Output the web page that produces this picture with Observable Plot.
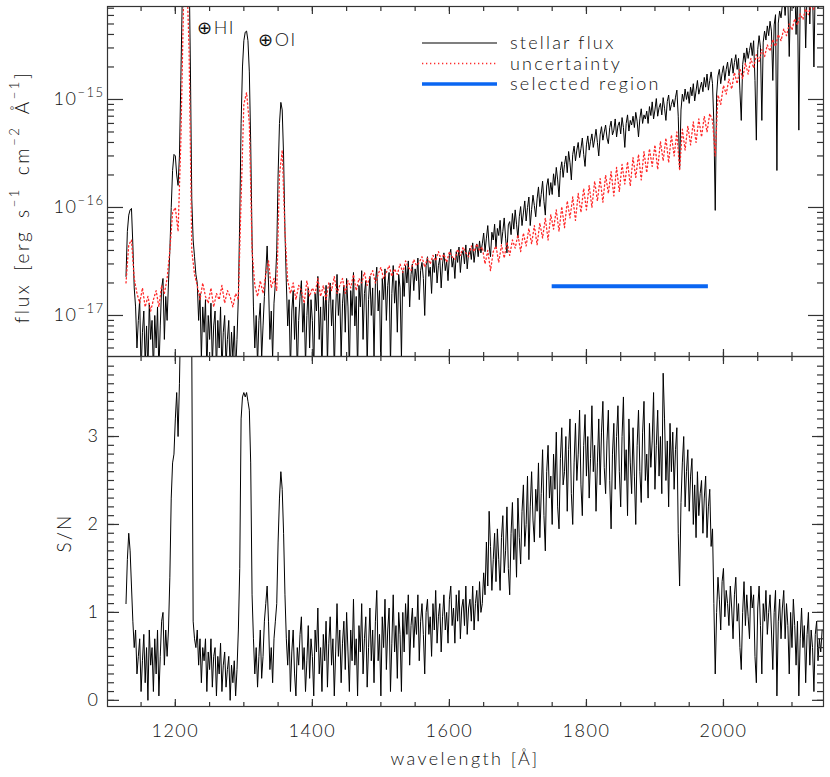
<!DOCTYPE html>
<html><head><meta charset="utf-8">
<script src="https://cdn.jsdelivr.net/npm/d3@7"></script>
<script src="https://cdn.jsdelivr.net/npm/@observablehq/plot@0.6"></script>
<style>
html,body{margin:0;padding:0;background:#fff;}
#chart{position:relative;width:830px;height:777px;}
#chart svg{position:absolute;left:0;overflow:visible;background:transparent;}
</style></head><body><div id="chart"></div>
<script>
// wavelength grid of the flux and S/N spectra [Å]
const wavelength = [
1128,1130,1132,1134,1136,1138,1140,1142,1144,1146,
1148,1150,1152,1154,1156,1158,1160,1162,1164,1166,
1168,1170,1172,1174,1176,1178,1180,1182,1184,1186,
1188,1190,1192,1194,1196,1198,1200,1202,1204,1206,
1208,1210,1212,1214,1216,1218,1220,1222,1224,1226,
1228,1230,1232,1234,1236,1238,1240,1242,1244,1246,
1248,1250,1252,1254,1256,1258,1260,1262,1264,1266,
1268,1270,1272,1274,1276,1278,1280,1282,1284,1286,
1288,1290,1292,1294,1296,1298,1300,1302,1304,1306,
1308,1310,1312,1314,1316,1318,1320,1322,1324,1326,
1328,1330,1332,1334,1336,1338,1340,1342,1344,1346,
1348,1350,1352,1354,1356,1358,1360,1362,1364,1366,
1368,1370,1372,1374,1376,1378,1380,1382,1384,1386,
1388,1390,1392,1394,1396,1398,1400,1402,1404,1406,
1408,1410,1412,1414,1416,1418,1420,1422,1424,1426,
1428,1430,1432,1434,1436,1438,1440,1442,1444,1446,
1448,1450,1452,1454,1456,1458,1460,1462,1464,1466,
1468,1470,1472,1474,1476,1478,1480,1482,1484,1486,
1488,1490,1492,1494,1496,1498,1500,1502,1504,1506,
1508,1510,1512,1514,1516,1518,1520,1522,1524,1526,
1528,1530,1532,1534,1536,1538,1540,1542,1544,1546,
1548,1550,1552,1554,1556,1558,1560,1562,1564,1566,
1568,1570,1572,1574,1576,1578,1580,1582,1584,1586,
1588,1590,1592,1594,1596,1598,1600,1602,1604,1606,
1608,1610,1612,1614,1616,1618,1620,1622,1624,1626,
1628,1630,1632,1634,1636,1638,1640,1642,1644,1646,
1648,1650,1652,1654,1656,1658,1660,1662,1664,1666,
1668,1670,1672,1674,1676,1678,1680,1682,1684,1686,
1688,1690,1692,1694,1696,1698,1700,1702,1704,1706,
1708,1710,1712,1714,1716,1718,1720,1722,1724,1726,
1728,1730,1732,1734,1736,1738,1740,1742,1744,1746,
1748,1750,1752,1754,1756,1758,1760,1762,1764,1766,
1768,1770,1772,1774,1776,1778,1780,1782,1784,1786,
1788,1790,1792,1794,1796,1798,1800,1802,1804,1806,
1808,1810,1812,1814,1816,1818,1820,1822,1824,1826,
1828,1830,1832,1834,1836,1838,1840,1842,1844,1846,
1848,1850,1852,1854,1856,1858,1860,1862,1864,1866,
1868,1870,1872,1874,1876,1878,1880,1882,1884,1886,
1888,1890,1892,1894,1896,1898,1900,1902,1904,1906,
1908,1910,1912,1914,1916,1918,1920,1922,1924,1926,
1928,1930,1932,1934,1936,1938,1940,1942,1944,1946,
1948,1950,1952,1954,1956,1958,1960,1962,1964,1966,
1968,1970,1972,1974,1976,1978,1980,1982,1984,1986,
1988,1990,1992,1994,1996,1998,2000,2002,2004,2006,
2008,2010,2012,2014,2016,2018,2020,2022,2024,2026,
2028,2030,2032,2034,2036,2038,2040,2042,2044,2046,
2048,2050,2052,2054,2056,2058,2060,2062,2064,2066,
2068,2070,2072,2074,2076,2078,2080,2082,2084,2086,
2088,2090,2092,2094,2096,2098,2100,2102,2104,2106,
2108,2110,2112,2114,2116,2118,2120,2122,2124,2126,
2128,2130,2132,2134,2136,2138,2140,2142,2144];

// stellar flux, units of 1e-17 erg s^-1 cm^-2 Å^-1
const fluxE17 = [
2.3,6.0,8.5,9.5,9.8,4.5,1.8,1.2,0.5,0.9,
1.4,0.3,0.7,1.1,0.35,0.8,0.3,1.3,0.6,0.9,
0.3,1.0,0.5,1.2,0.3,0.8,1.8,2.2,0.6,1.5,
0.9,2.0,4.0,10,22,31,30,20,16,30,
150,800,3000,5000,6000,5000,2000,200,12,5,
3.5,2.4,2.0,0.9,1.6,0.4,1.2,0.7,1.4,0.3,
1.0,0.6,1.3,0.35,0.8,1.1,0.3,0.9,0.5,1.2,
0.3,0.7,1.0,0.35,0.6,0.9,0.3,0.7,0.4,0.8,
0.3,0.6,1.5,8,60,200,350,420,430,350,
180,40,5,1.2,0.5,1.0,0.35,0.9,1.3,0.4,
0.8,1.5,2.5,4.4,2.0,0.6,1.1,0.4,1.3,2.0,
4,20,60,94,80,30,6,2.0,0.8,1.4,
0.3,1.1,1.7,0.6,1.2,0.3,0.9,1.5,2.1,0.7,
1.3,0.35,1.0,1.8,0.5,1.4,0.9,0.3,1.6,1.1,
2.3,0.6,1.2,0.3,1.5,0.9,1.9,0.35,1.3,2.0,
0.8,1.4,0.3,1.1,2.4,1.0,1.6,0.4,1.3,1.9,
0.7,2.2,1.2,0.3,1.7,1.0,2.5,0.8,1.5,0.3,
1.9,1.2,2.6,0.6,1.6,2.1,0.35,1.4,2.3,1.0,
1.8,0.4,2.0,2.8,1.1,1.7,0.3,2.2,1.4,2.7,
0.9,1.9,2.5,0.35,1.6,2.9,1.3,2.1,0.7,2.4,
1.8,0.4,2.6,1.5,2.9,2.0,3.2,1.2,2.4,3.0,
1.7,2.7,2.1,3.4,1.4,2.6,3.1,2.2,1.0,2.9,
3.5,2.3,2.8,1.6,3.3,2.5,3.7,2.0,2.9,3.4,
1.8,3.0,3.8,2.6,3.2,2.1,3.6,4.1,2.8,3.4,
2.2,3.9,3.1,4.3,2.5,3.6,4.0,3.0,4.5,2.7,
3.8,4.2,3.3,4.7,3.1,4.0,4.6,3.5,4.9,3.8,
4.6,5.8,3.9,5.2,6.8,4.4,3.5,5.9,5.0,7.0,
4.2,6.4,5.5,7.6,4.6,6.0,8.0,5.2,3.8,6.9,
7.4,5.6,8.8,6.3,9.5,7.0,5.2,8.2,10.2,6.8,
8.9,11.5,7.5,10.0,12.5,6.8,9.6,13.0,10.4,8.2,
12.0,15.5,10.2,13.2,17.5,11.4,8.5,15.8,18.5,13.0,
17.0,13.2,20.5,16.0,23.5,18.0,12.5,22.0,26.5,19.0,
25,30,21,33,26,18,31,37,27,34,
40,29,35,44,31,24,38,46,34,41,
48,36,43,53,40,30,47,56,42,50,
58,44,39,55,63,47,52,66,45,57,
62,48,68,55,36,60,72,51,64,58,
70,55,76,63,45,67,82,60,72,66,
78,60,86,71,95,66,80,102,70,84,
92,72,104,83,64,96,110,79,90,100,
85,105,122,70,23,80,112,96,125,100,
118,92,130,108,140,97,120,150,112,128,
145,118,160,130,172,122,150,180,140,60,
9.4,110,165,190,140,175,205,150,190,222,
165,200,240,175,220,260,190,240,120,64,
210,270,220,300,240,285,335,255,350,150,
42,290,390,305,64,340,430,355,480,390,
530,430,150,490,610,22,510,660,570,760,
900,600,1000,820,250,900,1100,700,1200,400,
1000,52,800,1300,900,1200,300,1000,1400,500,
1300,1100,200,1200,1500,700,1300,1100,1500];

// signal-to-noise ratio on the same grid
const snr = [
1.1,1.6,1.9,1.7,1.3,0.9,0.6,0.8,0.3,0.5,
0.7,0.1,0.45,0.75,0.2,0.6,0.0,0.8,0.4,0.6,
0.1,0.7,0.3,0.8,0.05,0.5,0.9,1.0,0.4,0.8,
0.5,0.8,1.4,2.3,2.7,2.8,3.2,3.5,3.0,3.6,
4.5,6,8,9,10,9,7,6,4,0.9,
0.7,0.6,0.8,0.4,0.7,0.2,0.6,0.45,0.7,0.1,
0.55,0.35,0.7,0.15,0.5,0.6,0.05,0.5,0.3,0.65,
0.1,0.4,0.55,0.15,0.35,0.5,0.0,0.4,0.2,0.45,
0.05,0.35,0.8,1.5,3.2,3.45,3.5,3.45,3.5,3.4,
3.3,2.7,1.2,0.7,0.3,0.6,0.15,0.5,0.8,0.25,
0.5,0.9,1.1,1.3,0.9,0.35,0.6,0.2,0.7,0.9,
1.1,1.8,2.3,2.6,2.4,1.9,1.2,0.7,0.4,0.8,
0.1,0.55,0.8,0.3,0.05,0.6,0.4,0.75,0.95,0.35,
0.6,0.1,0.45,0.85,0.25,0.7,0.5,0.05,0.8,0.55,
1.05,0.3,0.6,0.1,0.75,0.45,0.9,0.15,0.65,0.95,
0.4,0.7,0.05,0.55,1.1,0.5,0.8,0.2,0.65,0.9,
0.35,1.0,0.55,0.1,0.8,0.45,1.15,0.4,0.7,0.05,
0.85,0.55,1.1,0.3,0.7,0.95,0.15,0.6,1.05,0.45,
0.8,0.2,0.9,1.25,0.45,0.75,0.05,0.95,0.6,1.15,
0.35,0.8,1.05,0.1,0.65,1.2,0.55,0.85,0.25,1.0,
0.75,0.1,1.0,0.55,1.1,0.75,1.2,0.4,0.85,1.05,
0.6,0.95,0.75,1.2,0.45,0.9,1.1,0.75,0.3,1.0,
1.15,0.75,0.95,0.5,1.1,0.8,1.25,0.65,0.95,1.1,
0.55,0.95,1.2,0.8,1.0,0.65,1.15,1.3,0.85,1.05,
0.65,1.2,0.9,1.25,0.7,1.05,1.15,0.85,1.3,0.75,
1.05,1.15,0.9,1.3,0.8,1.1,1.25,0.9,1.35,1.0,
1.1,1.45,1.2,1.8,1.3,2.15,1.75,1.25,1.6,1.9,
1.35,1.95,1.6,1.25,1.85,2.1,1.45,1.7,2.2,1.5,
1.2,1.9,2.25,1.6,1.95,1.4,2.3,1.85,1.55,2.15,
2.45,1.75,2.0,2.55,1.6,2.2,2.6,2.05,1.8,2.4,
2.15,2.7,1.85,2.35,2.85,2.1,1.7,2.6,2.9,2.3,
2.55,2.0,2.8,2.4,3.05,2.2,1.95,2.75,3.1,2.45,
2.6,3.0,2.15,2.85,3.2,2.35,2.0,2.7,3.15,2.5,
2.8,3.3,2.45,2.1,2.9,3.25,2.55,3.0,2.3,2.75,
3.35,2.6,2.9,2.15,2.7,3.2,2.45,3.05,3.4,2.65,
2.35,2.95,3.3,2.5,1.95,2.8,3.15,2.4,3.0,3.35,
2.6,2.2,3.0,3.45,2.5,2.85,2.1,3.2,2.7,2.35,
3.1,2.55,2.0,2.9,3.3,2.6,2.25,3.05,3.4,2.5,
2.8,2.3,3.15,2.65,2.95,3.5,2.4,2.9,3.3,2.55,
3.0,2.35,3.72,3.2,2.5,2.95,2.2,3.15,2.6,3.05,
2.4,2.85,3.1,1.9,1.3,2.25,2.7,3.0,2.2,2.6,
2.85,2.15,2.55,2.75,2.0,2.45,1.85,2.6,2.1,2.35,
2.5,1.9,2.3,2.55,1.85,2.2,2.4,1.75,1.95,1.1,
0.3,1.0,1.4,1.15,0.8,1.35,1.5,0.95,1.25,1.1,
0.85,1.3,1.05,0.7,1.2,1.4,0.9,1.1,0.6,0.35,
1.0,1.35,0.85,1.2,0.95,0.7,1.3,1.05,1.2,0.5,
0.2,1.05,1.3,0.85,0.3,1.1,0.9,1.25,0.75,1.0,
1.2,0.8,0.35,1.0,1.25,0.05,0.9,1.15,0.7,1.05,
1.25,0.7,1.1,0.85,0.3,1.0,0.6,1.15,0.85,0.4,
0.9,0.05,0.7,1.05,0.6,0.85,0.2,0.75,1.0,0.4,
0.8,0.6,0.1,0.75,0.9,0.45,0.7,0.55,0.8];

// wavelength grid of the uncertainty spectrum [Å]
const errWavelength = [
1128,1132,1136,1140,1144,1148,1152,1156,1160,1164,
1168,1172,1176,1180,1184,1188,1192,1196,1200,1204,
1208,1212,1216,1220,1224,1228,1232,1236,1240,1244,
1248,1252,1256,1260,1264,1268,1272,1276,1280,1284,
1288,1292,1296,1300,1304,1308,1312,1316,1320,1324,
1328,1332,1336,1340,1344,1348,1352,1356,1360,1364,
1368,1372,1376,1380,1384,1388,1392,1396,1400,1404,
1408,1412,1416,1420,1424,1428,1432,1436,1440,1444,
1448,1452,1456,1460,1464,1468,1472,1476,1480,1484,
1488,1492,1496,1500,1504,1508,1512,1516,1520,1524,
1528,1532,1536,1540,1544,1548,1552,1556,1560,1564,
1568,1572,1576,1580,1584,1588,1592,1596,1600,1604,
1608,1612,1616,1620,1624,1628,1632,1636,1640,1644,
1648,1652,1656,1660,1664,1668,1672,1676,1680,1684,
1688,1692,1696,1700,1704,1708,1712,1716,1720,1724,
1728,1732,1736,1740,1744,1748,1752,1756,1760,1764,
1768,1772,1776,1780,1784,1788,1792,1796,1800,1804,
1808,1812,1816,1820,1824,1828,1832,1836,1840,1844,
1848,1852,1856,1860,1864,1868,1872,1876,1880,1884,
1888,1892,1896,1900,1904,1908,1912,1916,1920,1924,
1928,1932,1936,1940,1944,1948,1952,1956,1960,1964,
1968,1972,1976,1980,1984,1988,1992,1996,2000,2004,
2008,2012,2016,2020,2024,2028,2032,2036,2040,2044,
2048,2052,2056,2060,2064,2068,2072,2076,2080,2084,
2088,2092,2096,2100,2104,2108,2112,2116,2120,2124,
2128,2132,2136,2140,2144];

// uncertainty, units of 1e-17 erg s^-1 cm^-2 Å^-1
const errE17 = [
2.0,4.5,5.0,2.2,1.6,1.3,1.8,1.2,1.5,1.1,
1.4,1.7,1.2,1.9,1.6,2.2,4,9,10,6,
40,800,2000,300,4,2.4,1.9,1.4,2.0,1.5,
1.3,1.8,1.2,1.6,1.4,1.9,1.3,1.7,1.5,1.2,
1.6,1.4,12,90,116,60,4,1.9,1.5,2.1,
1.6,2.4,3.2,1.8,2.2,1.7,20,34,6,2.1,
1.6,2.0,1.4,1.9,1.7,1.3,2.1,1.5,1.8,1.6,
2.2,1.5,1.9,1.4,2.0,1.7,2.3,1.6,1.9,2.2,
1.6,2.1,1.8,2.4,1.7,2.2,2.0,2.5,1.9,2.3,
2.6,2.0,2.4,2.8,2.2,2.5,2.9,2.3,2.7,2.4,
3.0,2.5,3.2,2.8,2.6,3.3,2.9,3.1,3.5,2.8,
3.4,3.0,3.6,3.2,3.9,3.3,3.7,3.1,3.9,3.5,
3.3,4.1,3.6,4.3,3.8,3.5,4.4,3.9,4.6,4.0,
4.3,3.0,4.0,2.6,3.9,4.4,3.1,4.5,3.4,4.8,
3.6,5.0,4.2,5.6,3.9,5.8,4.4,6.4,4.6,6.8,
4.5,7.2,5.2,8.0,5.0,8.6,6.3,9.5,6.0,10.2,
6.5,11.5,8.0,12.5,7.6,13.5,9.0,15,9.5,16,
10,17.5,11.5,18.5,11.2,20,13.5,21.5,12.8,23.5,
14,25,16.5,26.5,15.8,29,19,31,18,33,
21,35,24,38,22.5,41,27,44,26,47,
30,50,22,53,34,57,38,62,40,66,
45,70,50,74,64,30,110,90,135,112,
155,125,178,140,195,155,218,172,240,195,
260,225,290,250,320,280,360,310,400,350,
450,390,500,440,560,490,620,550,690,610,
760,680,840,750,900];

const xTicks = [1200, 1400, 1600, 1800, 2000];
const fluxTicks = [1e-17, 1e-16, 1e-15];
const snTicks = [0, 1, 2, 3];
const selectedRegion = [1750, 1978];
const selectedLevel = [1.86e-17];
const legendLabels = ["stellar flux", "uncertainty", "selected region"];
const annotationLabels = ["⊕HI", "⊕OI"];
const annotationX = [1232, 1321];
const annotationY = [4.6e-15, 3.5e-15];

const rows = wavelength.map((w, i) => ({w, flux: fluxE17[i] * 1e-17, sn: snr[i]}));
const errRows = errWavelength.map((w, i) => ({w, err: errE17[i] * 1e-17}));
const notes = annotationLabels.map((t, i) => ({t, x: annotationX[i], y: annotationY[i]}));

const FONT = "Lato, 'Open Sans', sans-serif";
const INK = "#111";
const xDomain = [1101, 2146];
const yDomain = [4.17e-18, 7.26e-15];
const xMinor = d3.range(1150, 2146, 50);
const logMinor = [];
for (let e = -18; e <= -15; e++) for (let m = 2; m <= 9; m++) {
  const v = m * Math.pow(10, e);
  if (v > yDomain[0] && v < yDomain[1]) logMinor.push(v);
}
const snMinor = d3.range(0, 39).map(i => i / 10);

function tickMarks(xMaj, xMin, yMaj, yMin, yMajLen) {
  const o = {stroke: "#333", strokeWidth: 1.2, fill: "none", label: null};
  return [
    Plot.axisX({...o, ticks: xMaj, anchor: "bottom", tickSize: -7}),
    Plot.axisX({...o, ticks: xMin, anchor: "bottom", tickSize: -4}),
    Plot.axisX({...o, ticks: xMaj, anchor: "top", tickSize: -7}),
    Plot.axisX({...o, ticks: xMin, anchor: "top", tickSize: -4}),
    Plot.axisY({...o, ticks: yMaj, anchor: "left", tickSize: -yMajLen}),
    Plot.axisY({...o, ticks: yMin, anchor: "left", tickSize: -7}),
    Plot.axisY({...o, ticks: yMaj, anchor: "right", tickSize: -yMajLen}),
    Plot.axisY({...o, ticks: yMin, anchor: "right", tickSize: -7})
  ];
}
const plotStyle = {background: "transparent", overflow: "visible", fontFamily: FONT, fontSize: "18px", fontWeight: 300, color: INK, letterSpacing: "1.5px"};

const topPlot = Plot.plot({
  width: 830, height: 357, marginTop: 6, marginBottom: 1, marginLeft: 107, marginRight: 7,
  style: plotStyle,
  x: {domain: xDomain},
  y: {type: "log", domain: yDomain},
  marks: [
    Plot.lineY(rows, {x: "w", y: "flux", stroke: "#000", strokeWidth: 1, clip: true}),
    Plot.lineY(errRows, {x: "w", y: "err", stroke: "#ff2a2a", strokeWidth: 1.3, strokeDasharray: "1.3,2.7", clip: true}),
    Plot.ruleY(selectedLevel, {x1: selectedRegion[0], x2: selectedRegion[1], stroke: "#0a66f2", strokeWidth: 4}),
    Plot.text(notes, {x: "x", y: "y", text: "t", textAnchor: "start", fontSize: 18, fill: INK}),
    Plot.axisY({ticks: fluxTicks, anchor: "left", tickSize: 0, tickPadding: 3, label: null, tickFormat: d => String(Math.round(Math.log10(d))), fontSize: 18, fill: INK}),
    ...tickMarks(xTicks, xMinor, fluxTicks, logMinor, 16),
    Plot.frame({stroke: "#333", strokeWidth: 1.2})
  ]
});

const botPlot = Plot.plot({
  width: 830, height: 427, marginTop: 6, marginBottom: 71, marginLeft: 107, marginRight: 7,
  style: plotStyle,
  x: {domain: xDomain},
  y: {domain: [-0.07, 3.91]},
  marks: [
    Plot.lineY(rows, {x: "w", y: "sn", stroke: "#000", strokeWidth: 1, clip: true}),
    Plot.axisX({ticks: xTicks, anchor: "bottom", tickSize: 0, tickPadding: 18, label: null, tickFormat: d3.format("d"), fontSize: 18, fill: INK, stroke: "none"}),
    Plot.axisY({ticks: snTicks, anchor: "left", tickSize: 0, tickPadding: 8, label: null, tickFormat: d3.format("d"), fontSize: 18, fill: INK, stroke: "none"}),
    ...tickMarks(xTicks, xMinor, snTicks, snMinor, 12),
    Plot.frame({stroke: "#333", strokeWidth: 1.2})
  ]
});

const chart = document.getElementById("chart");
topPlot.style.top = "0px";
botPlot.style.top = "350px";
chart.appendChild(botPlot);
chart.appendChild(topPlot);

// superscript exponents on the log tick labels
d3.select(topPlot).selectAll('g[aria-label="y-axis tick label"] text').each(function () {
  const t = d3.select(this);
  const e = t.text();
  if (!e) return;
  t.text("");
  t.append("tspan").text("10");
  t.append("tspan").attr("font-size", 13).attr("dy", "-0.6em").text("\u2212" + e.replace("-", "").replace("\u2212", ""));
});

const tsvg = d3.select(topPlot);
// y label with superscripts
const yl = tsvg.append("text").attr("transform", "translate(29,197) rotate(-90)")
  .attr("text-anchor", "middle").attr("font-family", FONT).attr("font-size", 19).attr("font-weight", 300)
  .attr("letter-spacing", "2.6px").attr("word-spacing", "4px").attr("fill", INK);
const parts = [["flux [erg s", ""], ["\u22121", "sup"], [" cm", ""], ["\u22122", "sup"], [" Å", ""], ["\u22121", "sup"], ["]", ""]];
let raised = false;
for (const [txt, kind] of parts) {
  const ts = yl.append("tspan").text(txt);
  if (kind === "sup") { ts.attr("font-size", 13).attr("dy", "-0.75em"); raised = true; }
  else if (raised) { ts.attr("dy", "0.51em"); raised = false; }
}

// legend
const legendColors = ["#000", "#ff2a2a", "#0a66f2"];
const legendDash = [null, "1.3,2.7", null];
const legendWidth = [1.2, 1.3, 3.5];
legendLabels.forEach((lab, i) => {
  const y = 43 + i * 20.5;
  tsvg.append("line").attr("x1", 422).attr("x2", 497).attr("y1", y).attr("y2", y)
    .attr("stroke", legendColors[i]).attr("stroke-width", legendWidth[i]).attr("stroke-dasharray", legendDash[i]);
  tsvg.append("text").attr("x", 510).attr("y", y + 6).attr("text-anchor", "start").attr("font-family", FONT)
    .attr("font-size", 18).attr("font-weight", 300).attr("letter-spacing", "2.2px").attr("fill", INK).text(lab);
});

// axis titles of the bottom panel
const bsvg = d3.select(botPlot);
bsvg.append("text").attr("x", 465).attr("y", 765 - 350).attr("text-anchor", "middle")
  .attr("font-family", FONT).attr("font-size", 18).attr("font-weight", 300).attr("letter-spacing", "2.4px").attr("fill", INK).text("wavelength [Å]");
bsvg.append("text").attr("transform", `translate(71,${533 - 350}) rotate(-90)`).attr("text-anchor", "middle")
  .attr("font-family", FONT).attr("font-size", 19).attr("font-weight", 300).attr("letter-spacing", "2px").attr("fill", INK).text("S/N");
</script></body></html>
